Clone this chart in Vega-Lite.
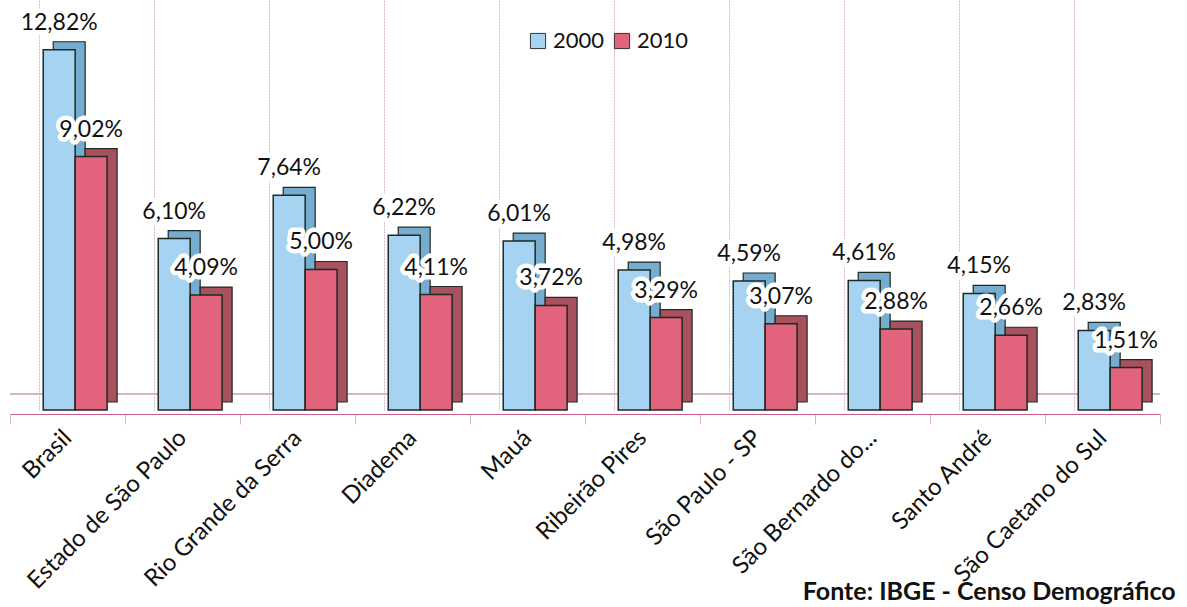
{
  "$schema": "https://vega.github.io/schema/vega-lite/v6.json",
  "width": 1150,
  "height": 410,
  "autosize": {"type": "none"},
  "padding": {"left": 10, "top": 0, "right": 27, "bottom": 197},
  "background": "white",
  "config": {
    "locale": {"number": {"decimal": ",", "thousands": ".", "grouping": [3], "currency": ["R$ ", ""]}},
    "view": {"stroke": null},
    "font": "Lato"
  },
  "title": {
    "text": "Fonte: IBGE - Censo Demográfico",
    "orient": "bottom",
    "anchor": "end",
    "fontSize": 25,
    "fontWeight": "bold",
    "font": "Lato",
    "color": "#111",
    "offset": -13,
    "dx": 15
  },
  "data": {
    "values": [
      {"local": "Brasil", "ano": "2000", "taxa": 0.1282},
      {"local": "Brasil", "ano": "2010", "taxa": 0.0902},
      {"local": "Estado de São Paulo", "ano": "2000", "taxa": 0.0610},
      {"local": "Estado de São Paulo", "ano": "2010", "taxa": 0.0409},
      {"local": "Rio Grande da Serra", "ano": "2000", "taxa": 0.0764},
      {"local": "Rio Grande da Serra", "ano": "2010", "taxa": 0.0500},
      {"local": "Diadema", "ano": "2000", "taxa": 0.0622},
      {"local": "Diadema", "ano": "2010", "taxa": 0.0411},
      {"local": "Mauá", "ano": "2000", "taxa": 0.0601},
      {"local": "Mauá", "ano": "2010", "taxa": 0.0372},
      {"local": "Ribeirão Pires", "ano": "2000", "taxa": 0.0498},
      {"local": "Ribeirão Pires", "ano": "2010", "taxa": 0.0329},
      {"local": "São Paulo - SP", "ano": "2000", "taxa": 0.0459},
      {"local": "São Paulo - SP", "ano": "2010", "taxa": 0.0307},
      {"local": "São Bernardo do...", "ano": "2000", "taxa": 0.0461},
      {"local": "São Bernardo do...", "ano": "2010", "taxa": 0.0288},
      {"local": "Santo André", "ano": "2000", "taxa": 0.0415},
      {"local": "Santo André", "ano": "2010", "taxa": 0.0266},
      {"local": "São Caetano do Sul", "ano": "2000", "taxa": 0.0283},
      {"local": "São Caetano do Sul", "ano": "2010", "taxa": 0.0151}
    ]
  },
  "resolve": {"scale": {"x": "independent"}, "axis": {"x": "independent"}},
  "encoding": {
    "y": {"field": "taxa", "type": "quantitative", "scale": {"domain": [0, 0.1459], "nice": false, "zero": true}, "axis": null}
  },
  "layer": [
    {
      "mark": {"type": "rule", "color": "#d8b4cc", "yOffset": -16, "strokeWidth": 1.2},
      "encoding": {"y": {"datum": 0}}
    },
    {
      "mark": {"type": "bar", "yOffset": -8, "y2Offset": -8, "stroke": "#1e2a22", "strokeWidth": 1.2},
      "encoding": {
        "x": {"field": "local", "type": "nominal", "sort": null, "scale": {"paddingInner": 0, "paddingOuter": 0, "range": [10, 1160]}, "axis": null},
        "xOffset": {"field": "ano", "type": "nominal", "scale": {"paddingInner": 0, "paddingOuter": 0.8, "align": 0.65}},
        "fill": {"condition": {"test": "datum.ano == '2000'", "value": "#76acd0"}, "value": "#a9525f"}
      }
    },
    {
      "mark": {"type": "bar", "stroke": "#1e2a22", "strokeWidth": 1.5},
      "encoding": {
        "x": {"field": "local", "type": "nominal", "sort": null, "scale": {"paddingInner": 0, "paddingOuter": 0},
          "axis": {"title": null, "offset": 4, "labelAngle": -45, "labelAlign": "right", "labelBaseline": "middle", "labelFontSize": 24, "labelColor": "#111", "labelPadding": 10, "labelFont": "Lato", "tickBand": "extent", "ticks": true, "tickSize": 10, "tickColor": "#d8b4cc", "domainColor": "#d05a8a", "domainWidth": 1.2, "grid": false, "labelLimit": 400}},
        "xOffset": {"field": "ano", "type": "nominal", "scale": {"paddingInner": 0, "paddingOuter": 0.8, "align": 0.65}},
        "color": {"field": "ano", "type": "nominal", "scale": {"domain": ["2000", "2010"], "range": ["#a5d3f1", "#e1637c"]},
          "legend": {"orient": "none", "legendX": 517, "legendY": 30, "direction": "horizontal", "title": null, "symbolType": "square", "symbolSize": 230, "symbolStrokeColor": "#333", "symbolStrokeWidth": 1, "labelFontSize": 22, "labelFont": "Lato", "labelColor": "#111", "columnPadding": 6, "labelOffset": 4, "padding": 0}}
      }
    },
    {
      "mark": {"type": "text", "baseline": "alphabetic", "dy": -20, "dx": 0, "fontSize": 23, "font": "Lato", "stroke": "white", "strokeWidth": 9, "strokeJoin": "round", "fill": "white"},
      "encoding": {
        "x": {"field": "local", "type": "nominal", "sort": null, "scale": {"paddingInner": 0, "paddingOuter": 0},
          "axis": {"orient": "top", "title": null, "labels": false, "ticks": false, "domain": false, "grid": true, "bandPosition": 0.26, "gridColor": "#d8b4cc", "gridDash": [2, 1], "gridWidth": 1}},
        "xOffset": {"field": "ano", "type": "nominal", "scale": {"paddingInner": 0, "paddingOuter": 0.8, "align": 0.65}},
        "text": {"field": "taxa", "type": "quantitative", "format": ".2%"}
      }
    },
    {
      "mark": {"type": "text", "baseline": "alphabetic", "dy": -20, "dx": 0, "fontSize": 23, "font": "Lato", "fill": "#111"},
      "encoding": {
        "x": {"field": "local", "type": "nominal", "sort": null, "scale": {"paddingInner": 0, "paddingOuter": 0}, "axis": null},
        "xOffset": {"field": "ano", "type": "nominal", "scale": {"paddingInner": 0, "paddingOuter": 0.8, "align": 0.65}},
        "text": {"field": "taxa", "type": "quantitative", "format": ".2%"}
      }
    }
  ]
}
